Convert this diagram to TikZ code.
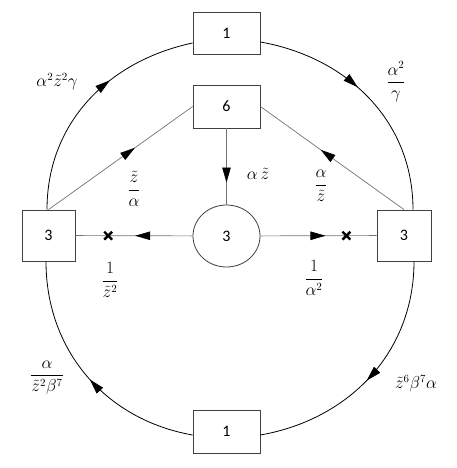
\documentclass[tikz,border=0pt]{standalone}
\usepackage{amsmath}
\usepackage{fontspec}
\newfontfamily\boxfont{Carlito}
\usetikzlibrary{arrows.meta,decorations.markings,shapes.geometric,shapes.misc}
\begin{document}
\begin{tikzpicture}[x=1pt,y=1pt,
  boxnode/.style={draw=black!75,line width=0.8pt,fill=white,inner sep=0pt,
    font=\boxfont\fontsize{16}{18}\selectfont},
  circnode/.style={ellipse,draw=black!75,line width=0.8pt,fill=white,inner sep=0pt,
    minimum width=67pt,minimum height=62pt,font=\boxfont\fontsize{16}{18}\selectfont},
  lbl/.style={inner sep=0pt,font=\fontsize{16}{19}\selectfont},
  outerarc/.style={draw=black,line width=0.8pt},
  innerline/.style={draw=black!55,line width=0.7pt},
  tipat/.style={postaction={decorate},decoration={markings,
    mark=at position #1 with {\arrow[black]{Triangle[length=15pt,width=8.5pt]}}}},
  crossmark/.style={cross out,draw=black,line width=2.4pt,minimum size=5.5pt,inner sep=0pt},
]
\useasboundingbox (0,0) rectangle (457,-468);

\node[boxnode,minimum width=67pt,minimum height=42pt] (top) at (226.5,-33) {1};
\node[boxnode,minimum width=67pt,minimum height=43pt] (six) at (226.5,-106.5) {6};
\node[boxnode,minimum width=53pt,minimum height=51pt] (left) at (48.5,-235.5) {3};
\node[boxnode,minimum width=54pt,minimum height=51pt] (right) at (404,-235.5) {3};
\node[boxnode,minimum width=67pt,minimum height=43pt] (bot) at (226.5,-431.5) {1};
\node[circnode] (circ) at (226.5,-236) {3};

% outer cycle
\draw[outerarc,tipat=0.62] ([xshift=-1.5pt]left.north) to[out=90,in=192] ([yshift=-10pt]top.west);
\draw[outerarc,tipat=0.44] ([yshift=-9pt]top.east) to[out=-10,in=90] ([xshift=9pt]right.north);
\draw[outerarc,tipat=0.52] ([xshift=10pt]right.south) to[out=-90,in=10] ([yshift=-3.5pt]bot.east);
\draw[outerarc,tipat=0.48] ([yshift=-3.5pt]bot.west) to[out=170,in=-90] ([xshift=-2.5pt]left.south);

% inner lines
\draw[innerline,tipat=0.6] (left.north) -- (six.west);
\draw[innerline,tipat=0.58] (right.north) -- (six.east);
\draw[innerline,tipat=0.71] (six) -- (circ);
\draw[innerline,tipat=0.49] (circ) -- (left) node[crossmark,pos=0.72] (xl) {};
\draw[innerline,tipat=0.56] (circ) -- (right) node[crossmark,pos=0.74] (xr) {};

% labels
\node[lbl] (l1) at (57,-82) {$\alpha^2\tilde z^2\gamma$};
\node[lbl] (l2) at (396,-82) {$\dfrac{\alpha^2}{\gamma}$};
\node[lbl] (l3) at (134,-189) {$\dfrac{\tilde z}{\alpha}$};
\node[lbl] (l4) at (321,-186) {$\dfrac{\alpha}{\tilde z}$};
\node[lbl] (l5) at (258,-174) {$\alpha\,\tilde z$};
\node[lbl] (l6) at (110,-280) {$\dfrac{1}{\tilde z^2}$};
\node[lbl] (l7) at (314,-278) {$\dfrac{1}{\alpha^2}$};
\node[lbl] (l8) at (47,-378) {$\dfrac{\alpha}{\tilde z^2\beta^7}$};
\node[lbl] (l9) at (416,-384) {$\tilde z^6\beta^7\alpha$};
\end{tikzpicture}
\end{document}
